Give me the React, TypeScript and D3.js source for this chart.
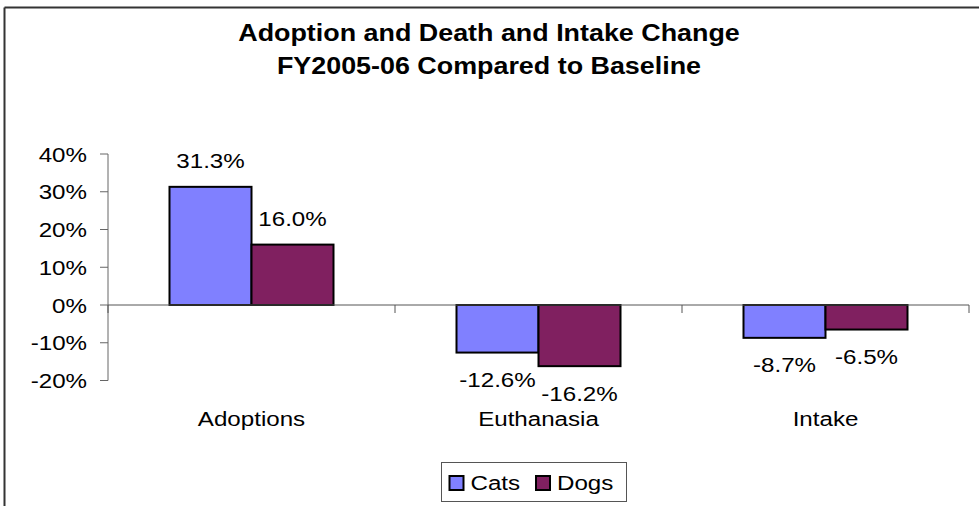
import React from "react";
import * as d3 from "d3";

const categories = ["Adoptions", "Euthanasia", "Intake"];
const seriesNames = ["Cats", "Dogs"];
const catsValues = [0.313, -0.126, -0.087];
const dogsValues = [0.16, -0.162, -0.065];
const yTicks = [-0.2, -0.1, 0, 0.1, 0.2, 0.3, 0.4];
const titleLines = ["Adoption and Death and Intake Change", "FY2005-06 Compared to Baseline"];

const colors = ["#8080FF", "#802060"];
const W = 979;
const H = 506;
const FONT = "'Liberation Sans', Arial, sans-serif";
const SX = 1.15;

function T({ x, y, anchor = "middle", size = 21, bold = false, sx = SX, children }: any) {
  return (
    <text
      transform={`translate(${x},${y}) scale(${sx},1)`}
      textAnchor={anchor}
      fontFamily={FONT}
      fontSize={size}
      fontWeight={bold ? "bold" : "normal"}
      fill="#000"
    >
      {children}
    </text>
  );
}

const hy = (s: string) => s.replace(/\u2212/g, "-");

export default function App() {
  const left = 108;
  const right = 969;
  const y = d3.scaleLinear().domain([-0.2, 0.4]).range([380.5, 154]);
  const x0 = d3.scaleBand<string>().domain(categories).range([left, right]).paddingInner(0).paddingOuter(0);
  const x1 = d3.scaleBand<string>().domain(seriesNames).range([0, x0.bandwidth()]).paddingInner(0).paddingOuter(0.75);
  const series = [catsValues, dogsValues];
  const fmt = (v: number) => hy(d3.format(".0%")(v));
  const fmt1 = (v: number) => hy(d3.format(".1%")(v));
  const zeroY = y(0);
  const boundaries = [...categories.map((c) => x0(c) as number), right];

  return (
    <svg width={W} height={H} style={{ position: "absolute", left: 0, top: 0, background: "#fff" }}>
      <rect x={0} y={0} width={W} height={H} fill="#fff" />
      {/* chart border (top and left visible) */}
      <line x1={4.5} y1={7.5} x2={W} y2={7.5} stroke="#333" strokeWidth={2} />
      <line x1={4.5} y1={7.5} x2={4.5} y2={H} stroke="#333" strokeWidth={2} />

      {/* title */}
      <T x={489} y={41} size={24} bold sx={1.12}>{titleLines[0]}</T>
      <T x={489} y={74} size={24} bold sx={1.12}>{titleLines[1]}</T>

      {/* y axis */}
      <line x1={left} y1={y(0.4)} x2={left} y2={y(-0.2)} stroke="#666" strokeWidth={1} />
      {yTicks.map((t) => (
        <g key={t}>
          <line x1={left - 8} x2={left} y1={y(t)} y2={y(t)} stroke="#666" strokeWidth={1} />
          <T x={87} y={y(t) + 7.5} anchor="end">{fmt(t)}</T>
        </g>
      ))}

      {/* bars */}
      {categories.map((c, i) =>
        series.map((vals, s) => {
          const v = vals[i];
          const bx = (x0(c) as number) + (x1(seriesNames[s]) as number);
          const top = Math.min(y(v), zeroY);
          const h = Math.abs(y(v) - zeroY);
          return (
            <rect
              key={c + s}
              x={bx}
              y={top}
              width={x1.bandwidth()}
              height={h}
              fill={colors[s]}
              stroke="#000"
              strokeWidth={2}
            />
          );
        })
      )}

      {/* x axis (zero line) */}
      <line x1={left} y1={zeroY} x2={right} y2={zeroY} stroke="#555" strokeWidth={1} />
      {boundaries.map((b, i) => (
        <line key={i} x1={b} x2={b} y1={zeroY} y2={zeroY + 8} stroke="#555" strokeWidth={1} />
      ))}

      {/* data labels */}
      {categories.map((c, i) =>
        series.map((vals, s) => {
          const v = vals[i];
          const cx = (x0(c) as number) + (x1(seriesNames[s]) as number) + x1.bandwidth() / 2;
          const ly = v >= 0 ? y(v) - 18.5 : y(v) + 34.5;
          return (
            <T key={"l" + c + s} x={cx} y={ly}>{fmt1(v)}</T>
          );
        })
      )}

      {/* category labels */}
      {categories.map((c) => (
        <T key={"c" + c} x={(x0(c) as number) + x0.bandwidth() / 2} y={426}>{c}</T>
      ))}

      {/* legend */}
      <rect x={441.5} y={462.5} width={185} height={39} fill="#fff" stroke="#555" strokeWidth={1} />
      {seriesNames.map((n, s) => {
        const sx = s === 0 ? 449.5 : 536;
        return (
          <g key={n}>
            <rect x={sx} y={476} width={14} height={14} fill={colors[s]} stroke="#000" strokeWidth={2} />
            <T x={sx + 21} y={490} anchor="start">{n}</T>
          </g>
        );
      })}
    </svg>
  );
}
